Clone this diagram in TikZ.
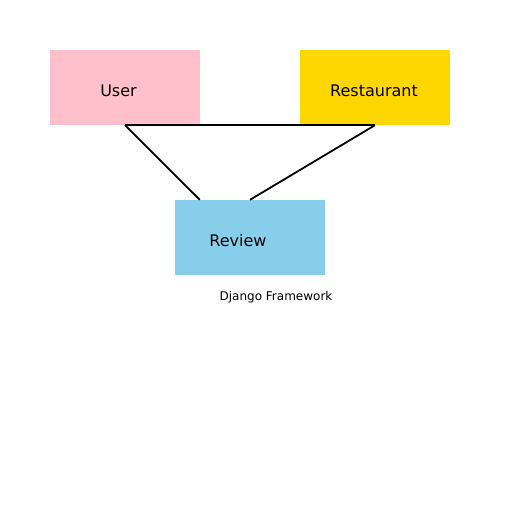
\documentclass[tikz,border=0pt]{standalone}
\usepackage{fontspec}
\setmainfont{DejaVu Sans}
\usetikzlibrary{positioning}
\definecolor{modelpink}{RGB}{255,192,203}
\definecolor{modelgold}{RGB}{255,215,0}
\definecolor{modelblue}{RGB}{135,206,235}
\tikzset{model/.style={rectangle, minimum width=150pt, minimum height=75pt, inner sep=0pt},
 lbl/.style={font=\fontsize{16pt}{19pt}\selectfont, inner sep=0pt},
 link/.style={line width=1.8pt}}
\begin{document}
\begin{tikzpicture}[x=1pt, y=-1pt]

\useasboundingbox (0,0) rectangle (512,512);

\node[model, fill=modelpink](user) at (125,87.5){};
\node[model, fill=modelgold](rest) at (375,87.5){};
\node[model, fill=modelblue](review) at (250,237.5){};

\node[lbl](userl) at (118.5,91){User};
\node[lbl](restl) at (374,91){Restaurant};
\node[lbl](reviewl) at (238,241){Review};

\node[font=\fontsize{12pt}{14pt}\selectfont, inner sep=0pt](django) at (276,297){Django Framework};

\draw[link](user.south)--(rest.south);
\draw[link](user.south)--([xshift=25pt]review.north west);
\draw[link](rest.south)--(review.north);

\end{tikzpicture}
\end{document}
